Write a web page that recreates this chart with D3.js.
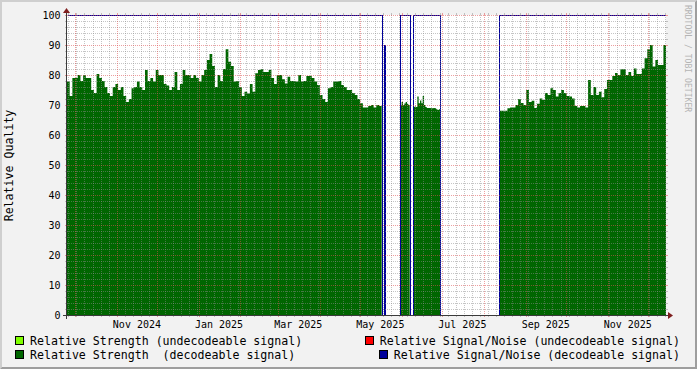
<!DOCTYPE html>
<html><head><meta charset="utf-8">
<script src="https://cdn.jsdelivr.net/npm/d3@7"></script>
<style>
html,body{margin:0;padding:0;background:#f2f2f2;}
svg{display:block;}
text{font-family:"DejaVu Sans Mono",monospace;}
</style>
</head><body>
<svg id="chart" width="697" height="369"></svg>
<script>
// ---------------- DATA ----------------
const domainStart = "2024-09-25T00:00";
const domainEnd = "2025-12-14T10:00";

// Relative Strength (decodeable) — segments: start date, step in days, values
const strengthStarts = ["2024-09-25T00:00", "2025-05-30T20:00", "2025-06-09T12:00", "2025-08-12T12:00"];
const strengthSteps = [2, 1, 1, 2];
const strengthA = [
  77.8, 73, 79, 79, 80, 78, 80, 79, 79, 75,
  74, 80.3, 79, 78, 76, 74, 73, 76, 77, 75,
  76, 73, 71, 72, 75.6, 76, 77.8, 76, 75, 81.7,
  78, 79, 77.8, 81.7, 80, 80, 77, 76.5, 75, 76,
  81, 75, 77, 81.7, 80, 80, 79, 80, 79, 77.8,
  80, 81.7, 85, 87, 83, 76, 80, 78, 82, 88.6,
  84.4, 83, 77.8, 78, 76, 73, 74.4, 73.8, 77, 74.4,
  80.6, 81.7, 82, 81, 81, 81.7, 79, 77, 80, 80,
  78.6, 77.2, 79.4, 78, 78, 77.8, 80, 77.8, 78, 79.7,
  79.7, 79, 77.8, 76.7, 73.3, 72, 71, 75.6, 76, 77.8,
  77.8, 78, 76.7, 76, 75, 75, 74, 73.3, 72, 70.6,
  69.2, 69.2, 69.7, 70, 69.2, 70, 69.7
];
const strengthB = [70, 71, 70, 70.5, 71, 70.3, 70];
const strengthC = [69.3, 69.5, 69.3, 72.8, 70.6, 71.5, 70.6, 73, 70, 69.3,
  69, 69, 69, 68.9, 68.9, 69, 68.9, 68.6, 68.3, 68.6];
const strengthD = [
  68.1, 68.1, 68.1, 68.9, 69.2, 69.2, 70, 72, 70.7, 70,
  75, 71, 71.4, 69, 70.4, 72.2, 71.7, 74, 73.3, 75.6,
  75, 72.8, 74, 75, 74, 73, 72.8, 72.2, 69.7, 69.2,
  69.7, 69.7, 69.2, 78.3, 73.3, 76, 73.3, 74.4, 72.6, 75.3,
  78.3, 78.3, 79.7, 80.7, 80, 81.9, 81.9, 80, 81, 79.7,
  82.2, 80.3, 80.3, 82.2, 85.6, 88.6, 90, 82.8, 85, 83.3,
  83.3, 90
];
const strengthSeries = [strengthA, strengthB, strengthC, strengthD];

// Relative Signal/Noise (decodeable) — segments
const snrStarts = ["2024-09-25T00:00", "2025-05-18T16:00", "2025-05-30T20:00", "2025-06-09T12:00", "2025-08-12T12:00"];
const snrEnds   = ["2025-05-17T00:00", "2025-05-19T16:00", "2025-06-06T20:00", "2025-06-29T12:00", "2025-12-14T10:00"];
const snrValues = [100, 90, 100, 100, 100];

// Axis / grid definitions
const yMajorTicks = [0, 10, 20, 30, 40, 50, 60, 70, 80, 90, 100];
const yMinorStep = 2;
const minorGridStart = "2024-09-26T00:00";
const minorGridDays = 6;
const xLabelMonths = ["2024-11-01T00:00", "2025-01-01T00:00", "2025-03-01T00:00", "2025-05-01T00:00", "2025-07-01T00:00", "2025-09-01T00:00", "2025-11-01T00:00"];
const xLabels = ["Nov 2024", "Jan 2025", "Mar 2025", "May 2025", "Jul 2025", "Sep 2025", "Nov 2025"];
const legendLeft = ["Relative Strength (undecodeable signal)", "Relative Strength  (decodeable signal)"];
const legendRight = ["Relative Signal/Noise (undecodeable signal)", "Relative Signal/Noise (decodeable signal)"];
const legendLeftColors = ["#80ff00", "#006600"];
const legendRightColors = ["#ff0000", "#000099"];
const yTitle = "Relative Quality";
const watermark = "RRDTOOL / TOBI OETIKER";

// ---------------- DRAW ----------------
const parse = d3.timeParse("%Y-%m-%dT%H:%M");
const W = 697, H = 369;
const X0 = 67, X1 = 666, Y0 = 315, Y1 = 15;
const svg = d3.select("#chart");

// background + 3D border
svg.append("rect").attr("width", W).attr("height", H).attr("fill", "#f2f2f2");
svg.append("path").attr("d", `M0,${H}L2,${H-2}L2,2L${W-2},2L${W},0L0,0Z`).attr("fill", "#cfcfcf");
svg.append("path").attr("d", `M2,${H-2}L${W-2},${H-2}L${W-2},2L${W},0L${W},${H}L0,${H}Z`).attr("fill", "#9e9e9e");

const x = d3.scaleTime().domain([parse(domainStart), parse(domainEnd)]).range([X0, X1]);
const y = d3.scaleLinear().domain([0, 100]).range([Y0, Y1]);

svg.append("defs").append("clipPath").attr("id", "clip")
  .append("rect").attr("x", X0).attr("y", Y1 - 1).attr("width", X1 - X0).attr("height", Y0 - Y1 + 2);

// canvas
svg.append("rect").attr("x", X0).attr("y", Y1).attr("width", X1 - X0).attr("height", Y0 - Y1).attr("fill", "#ffffff");

const plot = svg.append("g").attr("clip-path", "url(#clip)");

// green strength areas
const DAY = 86400000;
const area = d3.area().curve(d3.curveStepAfter)
  .x(d => x(d[0])).y0(y(0)).y1(d => y(d[1]));
strengthSeries.forEach((vals, i) => {
  const s = parse(strengthStarts[i]).getTime();
  const st = strengthSteps[i] * DAY;
  const pts = vals.map((v, j) => [new Date(s + j * st), v]);
  pts.push([new Date(s + vals.length * st), vals[vals.length - 1]]);
  plot.append("path").datum(pts).attr("d", area).attr("fill", "#006600");
});

// blue SNR line
const snrPts = [];
snrValues.forEach((v, i) => {
  snrPts.push([parse(snrStarts[i]), v]);
  snrPts.push([parse(snrEnds[i]), i === snrValues.length - 1 ? v : 0]);
});
const line = d3.line().curve(d3.curveStepAfter)
  .x(d => Math.round(x(d[0])) + 0.5).y(d => Math.round(y(d[1])) + 0.5);
plot.append("path").datum(snrPts).attr("d", line)
  .attr("fill", "none").attr("stroke", "#000099").attr("stroke-width", 1)
  .attr("shape-rendering", "crispEdges");

// grid
const grid = svg.append("g").attr("shape-rendering", "crispEdges");
const gridCol = "rgba(140,140,140,0.5)";
const mgridCol = "rgba(222,80,80,0.55)";
function hline(v, col) {
  const yy = Math.round(y(v)) + 0.5;
  grid.append("line").attr("x1", X0 - 2).attr("x2", X0).attr("y1", yy).attr("y2", yy).attr("stroke", col);
  grid.append("line").attr("x1", X1).attr("x2", X1 + 2).attr("y1", yy).attr("y2", yy).attr("stroke", col);
  grid.append("line").attr("x1", X0).attr("x2", X1).attr("y1", yy).attr("y2", yy)
    .attr("stroke", col).attr("stroke-dasharray", "1,1");
}
function vline(d, col) {
  const xx = Math.round(x(d)) + 0.5;
  grid.append("line").attr("x1", xx).attr("x2", xx).attr("y1", Y1 - 2).attr("y2", Y1).attr("stroke", col);
  grid.append("line").attr("x1", xx).attr("x2", xx).attr("y1", Y0).attr("y2", Y0 + 2).attr("stroke", col);
  grid.append("line").attr("x1", xx).attr("x2", xx).attr("y1", Y1).attr("y2", Y0)
    .attr("stroke", col).attr("stroke-dasharray", "1,1");
}
d3.range(0, 100 + 0.001, yMinorStep).forEach(v => { if (!yMajorTicks.includes(v)) hline(v, gridCol); });
let md = parse(minorGridStart).getTime();
while (md <= parse(domainEnd).getTime()) {
  const d = new Date(md);
  if (d.getDate() !== 1) vline(d, gridCol);
  md += minorGridDays * DAY;
}
yMajorTicks.forEach(v => hline(v, mgridCol));
d3.timeMonth.range(parse(domainStart), parse(domainEnd)).forEach(d => vline(d, mgridCol));

// axes
const axisCol = "#3a3a3a";
svg.append("line").attr("x1", X0 - 4).attr("x2", X1 + 4).attr("y1", Y0 + 0.5).attr("y2", Y0 + 0.5).attr("stroke", axisCol);
svg.append("line").attr("x1", X0 - 0.5).attr("x2", X0 - 0.5).attr("y1", Y0 + 4).attr("y2", Y1 - 4).attr("stroke", axisCol);
svg.append("path").attr("d", `M${X1+2},${Y0-3}L${X1+2},${Y0+4}L${X1+7},${Y0+0.5}Z`).attr("fill", "#7f1f1f");
svg.append("path").attr("d", `M${X0-4},${Y1-2}L${X0+3},${Y1-2}L${X0-0.5},${Y1-7}Z`).attr("fill", "#7f1f1f");

// y tick labels
svg.append("g").selectAll("text").data(yMajorTicks).join("text")
  .attr("x", 60.5).attr("y", d => y(d) + 3.6)
  .attr("text-anchor", "end").attr("font-size", "10px").attr("fill", "#000")
  .text(d => d);

// x tick labels (centered at month + 15 days, rrdtool style)
svg.append("g").selectAll("text").data(xLabelMonths).join("text")
  .attr("x", d => x(new Date(parse(d).getTime() + 15 * DAY)))
  .attr("y", 328)
  .attr("text-anchor", "middle").attr("font-size", "10px").attr("fill", "#000")
  .text((d, i) => xLabels[i]);

// y title
svg.append("text").attr("transform", "translate(12.5,165.5) rotate(-90)")
  .attr("text-anchor", "middle").attr("font-size", "11.6px").attr("fill", "#000").text(yTitle);

// watermark
svg.append("text").attr("transform", "translate(684.5,5) rotate(90)")
  .attr("text-anchor", "start").attr("font-size", "8.1px").attr("fill", "#b4b4b4").text(watermark);

// legend
const rowsY = [345, 359];
legendLeft.forEach((t, i) => {
  svg.append("rect").attr("x", 15.5).attr("y", rowsY[i] - 8.5).attr("width", 8).attr("height", 8)
    .attr("fill", legendLeftColors[i]).attr("stroke", "#000");
  svg.append("text").attr("x", 30).attr("y", rowsY[i]).attr("font-size", "11.6px").attr("fill", "#000")
    .style("white-space", "pre").text(t);
});
legendRight.forEach((t, i) => {
  const tx = svg.append("text").attr("x", 680).attr("y", rowsY[i]).attr("text-anchor", "end")
    .attr("font-size", "11.6px").attr("fill", "#000").style("white-space", "pre").text(t);
  const len = tx.node().getComputedTextLength();
  const sx = Math.round(680 - len) - 14.5;
  svg.append("rect").attr("x", sx).attr("y", rowsY[i] - 8.5).attr("width", 8).attr("height", 8)
    .attr("fill", legendRightColors[i]).attr("stroke", "#000");
});
</script>
</body></html>
